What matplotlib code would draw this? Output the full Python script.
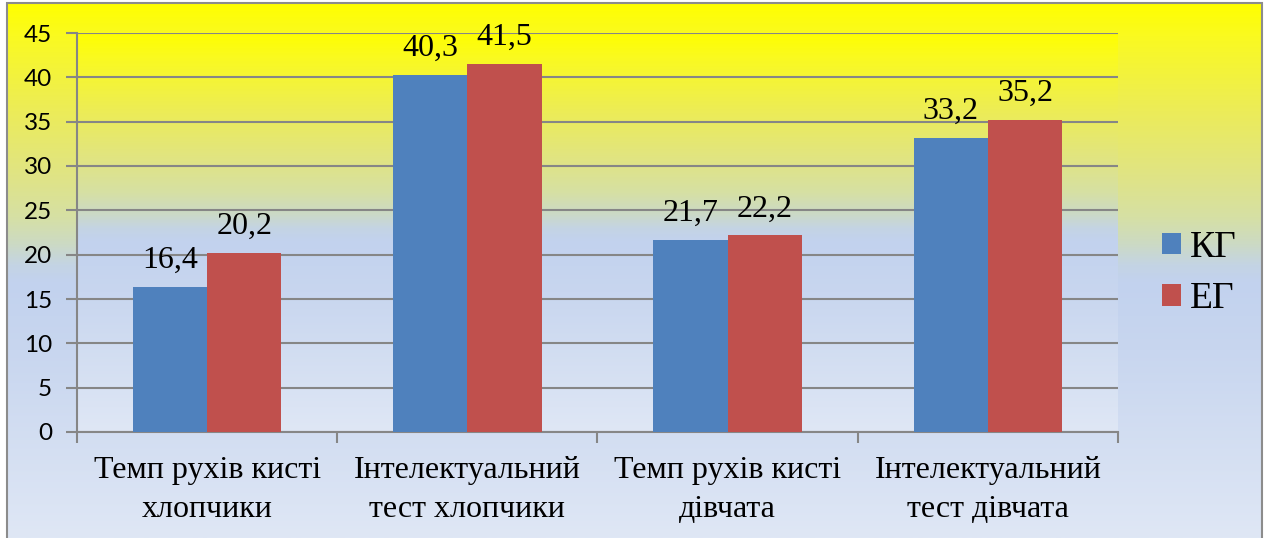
import numpy as np
import matplotlib
matplotlib.use('Agg')
import matplotlib.pyplot as plt
from matplotlib.colors import LinearSegmentedColormap
from matplotlib.patches import Rectangle

categories = ['Темп рухів кисті\nхлопчики', 'Інтелектуальний\nтест хлопчики',
              'Темп рухів кисті\nдівчата', 'Інтелектуальний\nтест дівчата']
kg = [16.4, 40.3, 21.7, 33.2]
eg = [20.2, 41.5, 22.2, 35.2]
series_names = ['КГ', 'ЕГ']

# background gradient, top to bottom
grad = LinearSegmentedColormap.from_list('bg', [
    (0.0, '#ffff00'), (0.06, '#fafa20'), (0.2, '#ecec58'), (0.32, '#e0e484'),
    (0.40, '#d6e0a4'), (0.45, '#ccdac4'), (0.49, '#c4d4e4'), (0.52, '#c2d2ee'),
    (0.65, '#c8d6ef'), (1.0, '#dfe7f5')])
g = np.linspace(0, 1, 256).reshape(-1, 1)

fig = plt.figure(figsize=(12.67, 5.38), dpi=100)

# figure background inside the border
bg = fig.add_axes([7 / 1267, 0, 1255 / 1267, 1 - 3 / 538])
bg.imshow(g, aspect='auto', cmap=grad, extent=[0, 1, 0, 1], zorder=0)
bg.set_axis_off()
fig.patches.append(Rectangle((7 / 1267, -0.01), 1255 / 1267, 1 - 3 / 538 + 0.01,
                             transform=fig.transFigure, fill=False,
                             edgecolor='#8c8c8c', linewidth=1.5, zorder=10))

ax = fig.add_axes([77 / 1267, 1 - 432 / 538, (1118 - 77) / 1267, (432 - 33) / 538])
ax.imshow(g, aspect='auto', cmap=grad, extent=[0, 1, 0, 1],
          transform=ax.transAxes, zorder=0)
ax.patch.set_visible(False)

x = np.arange(len(categories))
w = 0.285
b1 = ax.bar(x - w / 2, kg, w, color='#4f81bd', label=series_names[0], zorder=3)
b2 = ax.bar(x + w / 2, eg, w, color='#c0504d', label=series_names[1], zorder=3)

for bars, vals in ((b1, kg), (b2, eg)):
    for r, v in zip(bars, vals):
        ax.annotate(('%.1f' % v).replace('.', ','),
                    (r.get_x() + r.get_width() / 2, v),
                    xytext=(0, 13.5), textcoords='offset points',
                    ha='center', va='baseline', fontsize=23,
                    family='Liberation Serif', zorder=5)

ax.set_xlim(-0.5, len(categories) - 0.5)
ax.set_ylim(0, 45)
ax.set_yticks(range(0, 46, 5))
ax.yaxis.grid(True, color='#868686', linewidth=1.5, zorder=1)
ax.set_axisbelow(False)

ax.set_xticks(np.arange(-0.5, len(categories), 1))
ax.set_xticklabels([])
ax.set_xticks(x, minor=True)
ax.set_xticklabels(categories, minor=True, fontsize=23,
                   family='Liberation Serif', linespacing=1.48)
ax.tick_params(axis='x', which='major', direction='out', length=8,
               color='#868686', width=1.5)
ax.tick_params(axis='x', which='minor', length=0, pad=17)
ax.tick_params(axis='y', direction='out', length=8, color='#868686',
               width=1.5, labelsize=17.5, pad=10)
for t in ax.get_yticklabels():
    t.set_family('Lato')

for s in ('top', 'right'):
    ax.spines[s].set_visible(False)
for s in ('left', 'bottom'):
    ax.spines[s].set_color('#868686')
    ax.spines[s].set_linewidth(1.5)

fig.legend(handles=[b1, b2], loc='center left',
           bbox_to_anchor=(1162 / 1267, 1 - 273.5 / 538), frameon=False,
           prop={'family': 'Liberation Serif', 'size': 27},
           handlelength=0.5, handleheight=0.5, handletextpad=0.24,
           labelspacing=0.45, borderpad=0, borderaxespad=0)

fig.savefig('out.png', dpi=100)
